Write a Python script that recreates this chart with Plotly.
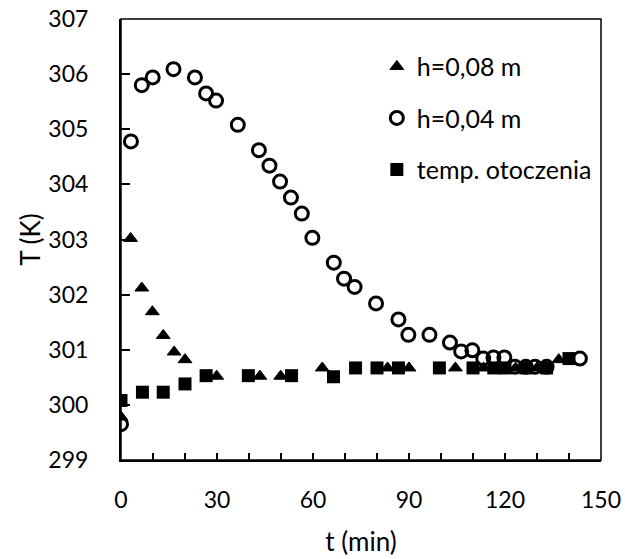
import plotly.graph_objects as go

# h = 0,08 m (filled triangles)
t_h08 = [0, 3.0, 6.5, 9.8, 13.2, 16.6, 20.0, 29.9, 43.4, 49.9, 62.9, 83.3, 90.0, 104.5, 113.3, 123.3, 130.0, 136.8]
T_h08 = [299.78, 303.02, 302.12, 301.69, 301.26, 300.96, 300.82, 300.52, 300.52, 300.52, 300.67, 300.67, 300.67,
         300.67, 300.67, 300.67, 300.67, 300.82]

# h = 0,04 m (open circles)
t_h04 = [0, 3.1, 6.5, 9.9, 16.4, 23.1, 26.6, 29.7, 36.5, 43.1, 46.4, 49.7, 53.1, 56.5, 59.8, 66.5, 69.7, 73.0,
         79.7, 86.7, 89.8, 96.4, 102.8, 106.3, 109.8, 113.2, 116.4, 119.8, 123.1, 126.5, 129.4, 133.0, 143.4]
T_h04 = [299.65, 304.78, 305.80, 305.94, 306.09, 305.94, 305.65, 305.52, 305.08, 304.62, 304.34, 304.05, 303.76,
         303.47, 303.03, 302.58, 302.29, 302.14, 301.84, 301.55, 301.27, 301.27, 301.13, 300.97, 300.99, 300.84,
         300.86, 300.86, 300.69, 300.69, 300.69, 300.69, 300.84]

# temp. otoczenia (filled squares)
t_amb = [0, 6.7, 13.2, 20.0, 26.6, 39.8, 53.3, 66.4, 73.3, 80.0, 86.7, 99.5, 110.0, 116.5, 120.0, 126.5, 133.0, 140.0]
T_amb = [300.08, 300.23, 300.23, 300.38, 300.53, 300.53, 300.53, 300.51, 300.67, 300.67, 300.67, 300.67, 300.67,
         300.67, 300.67, 300.67, 300.67, 300.84]

FONT = "Lato"
fig = go.Figure()
fig.add_trace(go.Scatter(x=t_h08, y=T_h08, mode="markers", name="h=0,08 m", legendgroup="a",
                         marker=dict(symbol="triangle-up", size=12, color="black",
                                     line=dict(color="black", width=1))))
fig.add_trace(go.Scatter(x=t_h04, y=T_h04, mode="markers", name="h=0,04 m", legendgroup="b",
                         marker=dict(symbol="circle-open", size=13, color="black",
                                     line=dict(color="black", width=3))))
fig.add_trace(go.Scatter(x=t_amb, y=T_amb, mode="markers", name="temp. otoczenia", legendgroup="c",
                         marker=dict(symbol="square", size=13, color="black")))

fig.update_layout(
    width=625, height=559,
    margin=dict(l=121, r=24, t=19, b=99),
    paper_bgcolor="white", plot_bgcolor="white",
    font=dict(family=FONT, size=23, color="black"),
    showlegend=True,
    legend=dict(x=0.533, y=0.944, xanchor="left", yanchor="top", bgcolor="rgba(0,0,0,0)",
                tracegroupgap=16, font=dict(size=25), itemwidth=30),
    xaxis=dict(range=[0, 150], dtick=30, tick0=0, ticks="inside", ticklen=7, tickwidth=1.5,
               tickcolor="black", showgrid=False, zeroline=False, showline=True, linecolor="black",
               linewidth=2, ticklabelstandoff=18, automargin=False,
               minor=dict(dtick=10, ticks="inside", ticklen=7, tickwidth=1.5, tickcolor="black", showgrid=False),
               title=dict(text="t (min)", standoff=21, font=dict(size=26))),
    yaxis=dict(range=[299, 307], dtick=1, ticks="inside", ticklen=9, tickwidth=1.5, tickcolor="black",
               showgrid=False, zeroline=False, showline=True, linecolor="black", linewidth=2,
               ticklabelstandoff=26, automargin=False,
               title=dict(text="T (K)", standoff=0, font=dict(size=26))),
    shapes=[dict(type="rect", xref="paper", yref="paper", x0=0, x1=1, y0=0, y1=1,
                 line=dict(color="black", width=1.5), layer="above")],
)

fig.write_html("out.html")
